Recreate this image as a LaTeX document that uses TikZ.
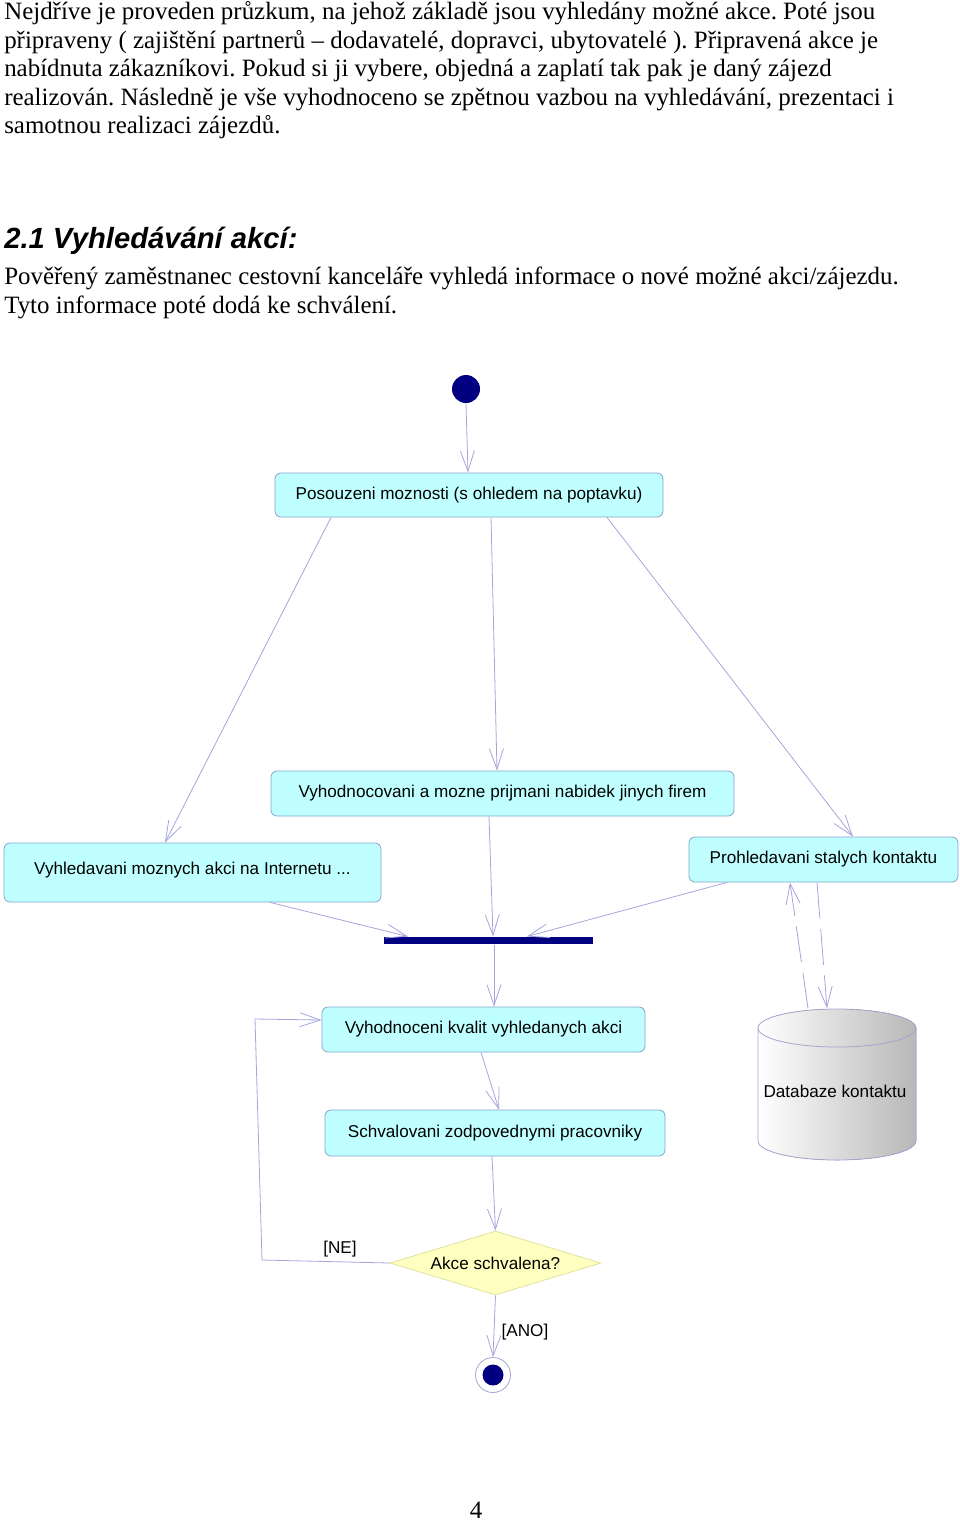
\documentclass[tikz,border=0pt]{standalone}
\usepackage{fontspec}
\setmainfont{Liberation Serif}
\newfontfamily\arialf{Liberation Sans}
\usetikzlibrary{arrows.meta,shapes.geometric,calc}
\definecolor{boxfill}{RGB}{192,255,255}
\definecolor{boxline}{RGB}{130,165,205}
\definecolor{edgec}{RGB}{165,165,220}
\definecolor{navyc}{RGB}{0,0,128}
\definecolor{dfill}{RGB}{255,255,192}
\definecolor{dline}{RGB}{225,225,160}
\definecolor{dbline}{RGB}{165,165,210}
\frenchspacing
\begin{document}
\begin{tikzpicture}[x=0.75pt,y=-0.75pt,
  act/.style={draw=boxline, fill=boxfill, rounded corners=4.5pt, inner sep=0pt, line width=0.6pt, font=\arialf\fontsize{12.85}{15}\selectfont},
  lab/.style={inner sep=0pt, font=\arialf\fontsize{12.85}{15}\selectfont},
  flow/.style={draw=edgec, line width=0.6pt, -{Straight Barb[length=15.5pt,width=10.5pt]}},
  dflow/.style={flow, dash pattern=on 27pt off 8pt},
  para/.style={anchor=base west, inner sep=0pt, font=\fontsize{18.7}{21.5}\selectfont},
  head/.style={anchor=base west, inner sep=0pt, font=\arialf\bfseries\itshape\fontsize{21.9}{24}\selectfont}]
\useasboundingbox (0,0) rectangle (960,1522);
% text
\node[para] (p1) at (4,19.5) {Nejdříve je proveden průzkum, na jehož základě jsou vyhledány možné akce. Poté jsou};
\node[para] (p2) at (4,48.1) {připraveny ( zajištění partnerů – dodavatelé, dopravci, ubytovatelé ). Připravená akce je};
\node[para] (p3) at (4,76.7) {nabídnuta zákazníkovi. Pokud si ji vybere, objedná a zaplatí tak pak je daný zájezd};
\node[para] (p4) at (4,105.3) {realizován. Následně je vše vyhodnoceno se zpětnou vazbou na vyhledávání, prezentaci i};
\node[para] (p5) at (4,133.9) {samotnou realizaci zájezdů.};
\node[head] (h) at (4,248.5) {2.1 Vyhledávání akcí:};
\node[para] (q1) at (4,284.5) {Pověřený zaměstnanec cestovní kanceláře vyhledá informace o nové možné akci/zájezdu.};
\node[para] (q2) at (4,313.1) {Tyto informace poté dodá ke schválení.};
% diagram nodes
\node[circle, fill=navyc, minimum size=21pt, inner sep=0pt] (start) at (466,389) {};
\node[act, minimum width=291pt, minimum height=33pt] (b1) at (469,495) {Posouzeni moznosti (s ohledem na poptavku)};
\node[act, minimum width=347.25pt, minimum height=33.75pt] (b2) at (502.5,793.5) {Vyhodnocovani a mozne prijmani nabidek jinych firem};
\node[act, minimum width=282.75pt, minimum height=44.25pt, text depth=6pt] (b3) at (192.5,872.5) {Vyhledavani moznych akci na Internetu ...};
\node[act, minimum width=201.75pt, minimum height=33.75pt] (b4) at (823.5,859.5) {Prohledavani stalych kontaktu};
\node[fill=navyc, minimum width=156.75pt, minimum height=5.6pt, inner sep=0pt] (bar) at (488.5,940.5) {};
\node[act, minimum width=242.25pt, minimum height=33.75pt] (b5) at (483.5,1029.5) {Vyhodnoceni kvalit vyhledanych akci};
\node[act, minimum width=255pt, minimum height=34.5pt] (b6) at (495,1133) {Schvalovani zodpovednymi pracovniky};
\node[diamond, draw=dline, fill=dfill, line width=0.6pt, aspect=3.3, minimum width=158.25pt, minimum height=48pt, inner sep=0pt, font=\arialf\fontsize{12.85}{15}\selectfont] (dec) at (495.5,1263) {Akce schvalena?};
\node[circle, draw=dbline, fill=white, line width=0.6pt, minimum size=26.25pt, inner sep=0pt] (end) at (493,1375) {};
\node[circle, fill=navyc, minimum size=15.75pt, inner sep=0pt] (endin) at (end.center) {};
% database
\fill[left color=white, right color=black!28] (758,1028) -- (758,1141) arc[start angle=180, end angle=0, x radius=79, y radius=19] -- (916,1028) arc[start angle=0, end angle=-180, x radius=79, y radius=19] -- cycle;
\draw[dbline, line width=0.6pt] (758,1028) -- (758,1141) arc[start angle=180, end angle=0, x radius=79, y radius=19] -- (916,1028);
\draw[dbline, line width=0.6pt] (837,1028) ellipse[x radius=79, y radius=19];
\node[minimum width=118.5pt, minimum height=114pt, inner sep=0pt] (db) at (837,1084.5) {};
\node[lab] (dbt) at (835,1091) {Databaze kontaktu};
% connectors
\draw[flow] (start.south) -- ($(b1.north)+(-1,0)$);
\draw[flow] ($(b1.south)+(-138,0)$) -- ($(b3.north)+(-27.5,0)$);
\draw[flow] ($(b1.south)+(22,0)$) -- ($(b2.north)+(-5.5,0)$);
\draw[flow] ($(b1.south)+(138,0)$) -- ($(b4.north)+(29.5,0)$);
\draw[flow] ($(b2.south)+(-13.5,0)$) -- ($(bar.north)+(4.5,0)$);
\draw[flow] ($(b3.south)+(77.5,0)$) -- ($(bar.north)+(-80.5,0)$);
\draw[flow] ($(b4.south)+(-96.5,0)$) -- ($(bar.north)+(38.5,0)$);
\draw[flow] ($(bar.south)+(5.5,0)$) -- ($(b5.north)+(10.5,0)$);
\draw[flow] ($(b5.south)+(-2.5,0)$) -- ($(b6.north)+(4,0)$);
\draw[flow] ($(b6.south)+(-3,0)$) -- (dec.north);
\coordinate (ne1) at (262,1260);
\coordinate (ne2) at (255,1019);
\draw[flow] (dec.west) -- (ne1) -- (ne2) -- ($(b5.west)+(0,-9.5)$);
\draw[flow] (dec.south) -- (end.north);
\draw[dflow] ($(db.north)+(-29,0)$) -- ($(b4.south)+(-33.5,0)$);
\draw[dflow] ($(b4.south)+(-6.5,0)$) -- ($(db.north)+(-10,0)$);
\node[lab] (ne) at (340,1249) {[NE]};
\node[lab] (ano) at (525,1332) {[ANO]};
\node[inner sep=0pt, font=\fontsize{18.7}{21.5}\selectfont] (pg) at (476,1510) {4};
\end{tikzpicture}
\end{document}
